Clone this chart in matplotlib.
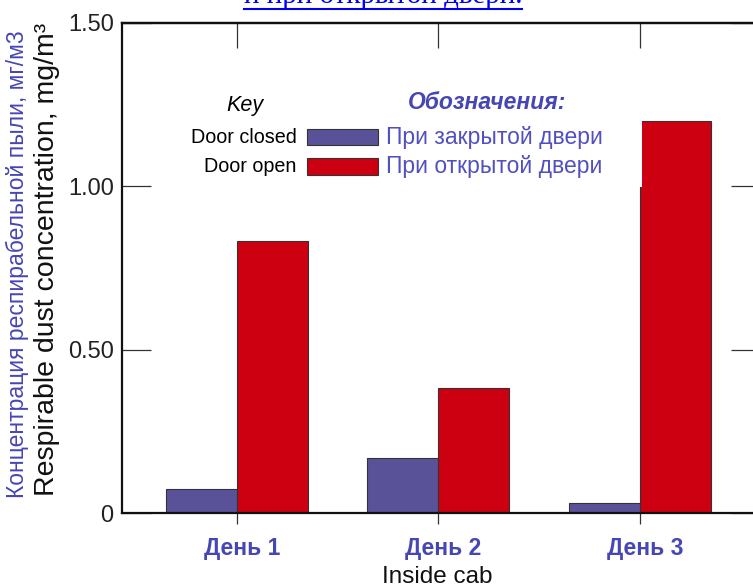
import numpy as np
import matplotlib
matplotlib.use("Agg")
import matplotlib.pyplot as plt
import matplotlib.transforms as mtransforms
from matplotlib.patches import Rectangle
from matplotlib.lines import Line2D

plt.rcParams['font.family'] = ['Liberation Sans', 'DejaVu Sans']

# data
days = ["День 1", "День 2", "День 3"]
door_closed = [0.073, 0.168, 0.030]
door_open = [0.833, 0.383, 1.200]
y_ticks = [0, 0.5, 1.0, 1.5]
y_tick_labels = ["0", "0.50", "1.00", "1.50"]

blue_text = "#4646b4"
c_closed = "#5a5298"
c_open = "#cc0011"

fig = plt.figure(figsize=(7.53, 5.87), dpi=100)
ax = fig.add_axes([0.162, 0.126, 0.847, 0.835])

x = np.arange(len(days))
w = 0.352
ax.bar(x - w / 2, door_closed, w, color=c_closed, edgecolor="#333333", linewidth=0.8)
ax.bar(x + w / 2, door_open, w, color=c_open, edgecolor="#333333", linewidth=0.8)

ax.set_xlim(-0.571, 2.596)
ax.set_ylim(0, 1.5)

for s in ax.spines.values():
    s.set_linewidth(1.6)
    s.set_color("#111111")

ax.set_yticks(y_ticks)
ax.set_yticklabels(y_tick_labels, fontsize=17, color="#222222")
ax.tick_params(axis="y", direction="in", length=21, width=0.9, color="#333333",
               right=True, pad=6)
ax.set_xticks(x)
ax.set_xticklabels(days, fontsize=16.5, fontweight="bold", color=blue_text)
ax.tick_params(axis="x", direction="out", length=8, width=0.9, color="#333333", pad=9)
# labels sit a little right of their ticks in the original
shift = mtransforms.ScaledTranslation(5 / 100, 0, fig.dpi_scale_trans)
for lbl in ax.get_xticklabels():
    lbl.set_transform(lbl.get_transform() + shift)

# ticks along the top edge
top = ax.secondary_xaxis("top")
top.set_xticks(x)
top.tick_params(direction="in", length=18, width=0.9, color="#333333", labeltop=False)
top.spines["top"].set_linewidth(1.6)

# axis titles
fig.text(437 / 753, 1 - 577 / 587, "Inside cab", fontsize=17.5, ha="center", va="center",
         color="#111111")
fig.text(47 / 753, 1 - 259 / 587, "Respirable dust concentration, mg/m³", fontsize=20.5,
         rotation=90, ha="center", va="center", color="#111111")
fig.text(17 / 753, 1 - 264 / 587, "Концентрация респирабельной пыли, мг/м3", fontsize=16.5,
         rotation=90, ha="center", va="center", color=blue_text)

# key box
ax.add_patch(Rectangle((0.115, 0.665), 0.70, 0.27, transform=ax.transAxes,
                       facecolor="white", edgecolor="none", zorder=3))
ax.text(0.193, 0.831, "Key", transform=ax.transAxes, fontsize=15.5, style="italic",
        ha="center", va="center", zorder=4)
ax.text(0.572, 0.837, "Обозначения:", transform=ax.transAxes, fontsize=16.5,
        style="italic", fontweight="bold", ha="center", va="center", color=blue_text,
        zorder=4)
ax.text(0.274, 0.767, "Door closed", transform=ax.transAxes, fontsize=14.2,
        ha="right", va="center", zorder=4)
ax.text(0.274, 0.708, "Door open", transform=ax.transAxes, fontsize=14.2,
        ha="right", va="center", zorder=4)
ax.add_patch(Rectangle((0.290, 0.751), 0.111, 0.033, transform=ax.transAxes,
                       facecolor=c_closed, edgecolor="#333333", linewidth=0.8, zorder=4))
ax.add_patch(Rectangle((0.290, 0.690), 0.111, 0.035, transform=ax.transAxes,
                       facecolor=c_open, edgecolor="#333333", linewidth=0.8, zorder=4))
ax.text(0.414, 0.767, "При закрытой двери", transform=ax.transAxes, fontsize=16.5,
        ha="left", va="center", color="#5050c0", zorder=4)
ax.text(0.414, 0.708, "При открытой двери", transform=ax.transAxes, fontsize=16.5,
        ha="left", va="center", color="#5050c0", zorder=4)

# cut-off caption at the top, underlined link text
cap = fig.text(383 / 753, 1 - 3 / 587, "и при открытой двери.", fontsize=21,
               family="Liberation Serif", ha="center", va="baseline", color="#0000ee")
fig.canvas.draw()
bb = cap.get_window_extent().transformed(fig.transFigure.inverted())
fig.add_artist(Line2D([bb.x0, bb.x1], [1 - 8.5 / 587] * 2, transform=fig.transFigure,
                      color="#0000ee", linewidth=1.5))

fig.savefig("out.png", dpi=100)
